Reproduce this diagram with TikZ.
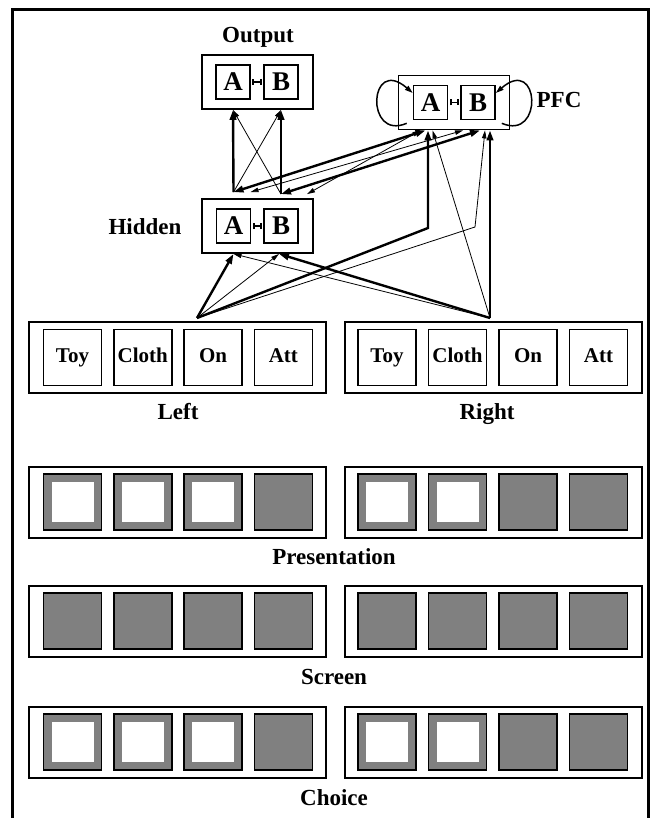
\documentclass[tikz,border=0pt]{standalone}
\usepackage{fontspec}
\setmainfont{Liberation Serif}
\usetikzlibrary{positioning,arrows.meta,calc}

\begin{document}
\begin{tikzpicture}[
  x=1pt,y=-1pt,
  font=\bfseries,
  frame/.style={line width=3pt},
  lbl/.style={font=\fontsize{23}{25}\selectfont\bfseries,text height=15pt,text depth=5pt},
  layer/.style={draw,line width=1.8pt,minimum width=111pt,minimum height=54pt,inner sep=0pt},
  ab/.style={draw,line width=1.6pt,minimum size=34pt,inner sep=0pt,
             font=\fontsize{27}{27}\selectfont\bfseries},
  link/.style={{Bar[width=6pt]}-{Bar[width=6pt]},line width=1.8pt,shorten <=1.5pt,shorten >=1.5pt},
  grp/.style={draw,line width=2pt,minimum width=297pt,minimum height=71pt,inner sep=0pt},
  unit/.style={draw,line width=1.7pt,minimum width=58pt,minimum height=56pt,inner sep=0pt,
               font=\fontsize{21}{21}\selectfont\bfseries,text height=13pt,text depth=4pt},
  dark/.style={unit,fill=black!50},
  lit/.style={dark,path picture={\fill[white]
      ([shift={(8pt,-8pt)}]path picture bounding box.north west) rectangle
      ([shift={(-8pt,8pt)}]path picture bounding box.south east);}},
  strong/.style={-{Triangle[length=10pt,width=6.5pt]},line width=2.4pt},
  weak/.style={-{Triangle[length=8pt,width=4.5pt]},line width=0.8pt},
  self/.style={-{Triangle[length=8pt,width=5pt]},line width=1.5pt},
]
  \useasboundingbox (0,0) rectangle (654,818);
  \draw[frame] (12,818) -- (12,10) -- (648,10) -- (648,818);

  % layers
  \node[layer] (out) at (257.5,82) {};
  \node[ab] (oa) at (233,82) {A};
  \node[ab] (ob) at (281,82) {B};
  \draw[link] (oa) -- (ob);
  \node[lbl] (outlbl) at (258,38) {Output};

  \node[layer] (pfc) at (454,102.5) {};
  \node[ab] (pa) at (430.5,102.5) {A};
  \node[ab] (pb) at (478,102.5) {B};
  \draw[link] (pa) -- (pb);
  \node[lbl] (pfclbl) at (559,103) {PFC};

  \node[layer] (hid) at (257.5,226) {};
  \node[ab] (ha) at (233.5,226) {A};
  \node[ab] (hb) at (281,226) {B};
  \draw[link] (ha) -- (hb);
  \node[lbl] (hidlbl) at (145,229.5) {Hidden};

  % input groups
  \node[grp] (lgrp) at (177.5,357.5) {};
  \node[grp] (rgrp) at (493,357.5) {};
  \node[unit] (lu1) at (72.5,357.5) {Toy};
  \node[unit] (lu2) at (142.8,357.5) {Cloth};
  \node[unit] (lu3) at (213.1,357.5) {On};
  \node[unit] (lu4) at (283.4,357.5) {Att};
  \node[unit] (ru1) at (387,357.5) {Toy};
  \node[unit] (ru2) at (457.5,357.5) {Cloth};
  \node[unit] (ru3) at (528,357.5) {On};
  \node[unit] (ru4) at (598.5,357.5) {Att};
  \node[lbl] (leftlbl) at (178,414) {Left};
  \node[lbl] (rightlbl) at (487,414) {Right};

  % display rows
  \foreach \r/\yy/\nl/\nr in {pres/502/3/2, scr/621/0/0, cho/742/3/2} {
    \node[grp] (\r L) at (177.5,\yy) {};
    \node[grp] (\r R) at (493,\yy) {};
    \foreach \i in {1,...,4} {
      \ifnum\i>\nl \node[dark] (\r L\i) at (72.5+70.3*\i-70.3,\yy) {};
      \else \node[lit] (\r L\i) at (72.5+70.3*\i-70.3,\yy) {}; \fi
      \ifnum\i>\nr \node[dark] (\r R\i) at (387+70.5*\i-70.5,\yy) {};
      \else \node[lit] (\r R\i) at (387+70.5*\i-70.5,\yy) {}; \fi
    }
  }
  \node[lbl] (preslbl) at (334,559) {Presentation};
  \node[lbl] (scrlbl) at (334,679) {Screen};
  \node[lbl] (cholbl) at (334,800) {Choice};

  % connections
  \coordinate (ha-up) at ([yshift=6pt]ha |- hid.north);
  \coordinate (hb-up) at ([yshift=4pt]hb |- hid.north);
  \draw[strong] (ha-up) -- (oa |- out.south);
  \draw[strong] (hb-up) -- (ob |- out.south);
  \draw[weak] (ha-up) -- (ob |- out.south);
  \draw[weak] (hb-up) -- (oa |- out.south);

  \draw[strong,{Triangle[length=10pt,width=6.5pt]}-{Triangle[length=10pt,width=6.5pt]}]
    (ha-up) -- ([xshift=-5pt]pa |- pfc.south);
  \draw[strong,{Triangle[length=10pt,width=6.5pt]}-{Triangle[length=10pt,width=6.5pt]}]
    (hb-up) -- ([xshift=2pt]pb |- pfc.south);
  \draw[weak,{Triangle[length=8pt,width=4.5pt]}-{Triangle[length=8pt,width=4.5pt]}]
    ([xshift=17pt]ha-up) -- ([xshift=-15pt]pb |- pfc.south);
  \draw[weak,{Triangle[length=8pt,width=4.5pt]}-{Triangle[length=8pt,width=4.5pt]}]
    ([xshift=26pt]hb-up) -- ([xshift=-10pt]pa |- pfc.south);

  \coordinate (lsrc) at ([xshift=19.5pt,yshift=3pt]lgrp.north);
  \coordinate (rsrc) at ([xshift=-3pt,yshift=3pt]rgrp.north);
  \draw[strong] (lsrc) -- (ha |- hid.south);
  \draw[weak] (lsrc) -- ([xshift=-2pt]hb |- hid.south);
  \draw[weak] (rsrc) -- (ha |- hid.south);
  \draw[strong] (rsrc) -- ([xshift=-2pt]hb |- hid.south);

  \coordinate (lbend) at (428,228);
  \coordinate (lbend2) at (475,227);
  \draw[strong] (lsrc) -- (lbend) -- (lbend |- pfc.south);
  \draw[weak] (lsrc) -- (lbend2) -- ([xshift=7pt]pb |- pfc.south);
  \draw[weak] (rsrc) -- ([xshift=2pt]pa |- pfc.south);
  \draw[strong] (rsrc) -- (rsrc |- pfc.south);

  % self loops
  \draw[self] ([shift={(-6pt,-3pt)}]pa.south west)
    .. controls +(-42pt,-18pt) and +(-44pt,38pt) .. ([yshift=9.5pt]pa.west);
  \draw[self] ([shift={(6pt,-3pt)}]pb.south east)
    .. controls +(42pt,-18pt) and +(44pt,38pt) .. ([yshift=9.5pt]pb.east);
\end{tikzpicture}
\end{document}
